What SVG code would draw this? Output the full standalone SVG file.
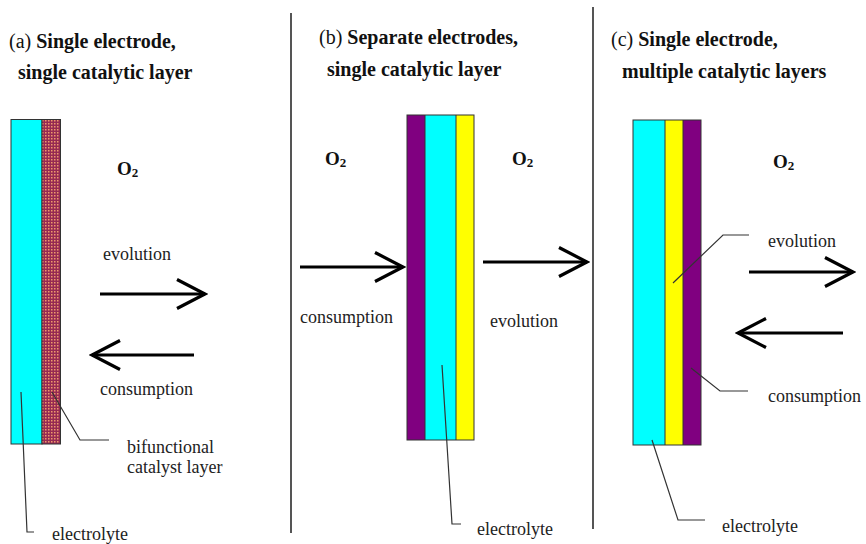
<svg xmlns="http://www.w3.org/2000/svg" width="866" height="544" viewBox="0 0 866 544">
<style>
text{font-family:'Liberation Serif','Tinos','DejaVu Serif',serif}
.t{font-size:18px;fill:#222}
.h{font-size:20px;fill:#111}
.b{font-weight:bold}
.o{font-size:19px;font-weight:bold;fill:#111}
.lead{fill:none;stroke:#333;stroke-width:1.2}
.arr{fill:none;stroke:#000;stroke-width:3.2}
.div{stroke:#555;stroke-width:2}
.lay{stroke:#333;stroke-width:1}
</style>
<defs>
<pattern id="cat" patternUnits="userSpaceOnUse" width="3" height="3">
<rect width="3" height="3" fill="#962a52"/>
<rect x="0" y="0" width="1.5" height="1.5" fill="#ee9a6c"/>
</pattern>
<marker id="head" markerUnits="userSpaceOnUse" viewBox="0 0 34 34" markerWidth="34" markerHeight="34" refX="31" refY="17" orient="auto">
<path d="M3,2.5 L31,17 L3,31.5" fill="none" stroke="#000" stroke-width="3.2"/>
</marker>
</defs>

<g id="dividers">
<line class="div" x1="291" y1="13" x2="291" y2="533"/>
<line class="div" x1="593" y1="7" x2="593" y2="529"/>
</g>

<g id="titles">
<text class="h" x="9" y="48">(a) <tspan class="b">Single electrode,</tspan></text>
<text class="h b" x="18" y="79">single catalytic layer</text>
<text class="h" x="319" y="44">(b) <tspan class="b">Separate electrodes,</tspan></text>
<text class="h b" x="327" y="76">single catalytic layer</text>
<text class="h" x="611" y="46">(c) <tspan class="b">Single electrode,</tspan></text>
<text class="h b" x="622" y="78">multiple catalytic layers</text>
</g>

<g id="panel-a">
<g id="a-electrolyte"><rect class="lay" x="11" y="119.5" width="31" height="324.5" fill="#00ffff"/></g>
<g id="a-catalyst"><rect class="lay" x="42" y="119.5" width="18.5" height="324.5" fill="url(#cat)"/></g>
<text class="o" x="117" y="175">O<tspan font-size="13" dy="2">2</tspan></text>
<text class="t" x="103" y="260">evolution</text>
<text class="t" x="100" y="395">consumption</text>
<text class="t" x="127" y="453">bifunctional</text>
<text class="t" x="127" y="473">catalyst layer</text>
<text class="t" x="52" y="540">electrolyte</text>
</g>

<g id="panel-b">
<g id="b-layers">
<rect x="407" y="115" width="18" height="325" fill="#800080"/>
<rect x="425" y="115" width="31" height="325" fill="#00ffff"/>
<rect x="456" y="115" width="18" height="325" fill="#ffff00"/>
<line class="lay" x1="425" y1="115" x2="425" y2="440"/>
<line class="lay" x1="456" y1="115" x2="456" y2="440"/>
<rect class="lay" x="407" y="115" width="67" height="325" fill="none"/>
</g>
<text class="o" x="325" y="165">O<tspan font-size="13" dy="2">2</tspan></text>
<text class="o" x="512" y="165">O<tspan font-size="13" dy="2">2</tspan></text>
<text class="t" x="300" y="323">consumption</text>
<text class="t" x="490" y="327">evolution</text>
<text class="t" x="477" y="535">electrolyte</text>
</g>

<g id="panel-c">
<g id="c-layers">
<rect x="633" y="120" width="32" height="325" fill="#00ffff"/>
<rect x="665" y="120" width="18" height="325" fill="#ffff00"/>
<rect x="683" y="120" width="18" height="325" fill="#800080"/>
<line class="lay" x1="665" y1="120" x2="665" y2="445"/>
<line class="lay" x1="683" y1="120" x2="683" y2="445"/>
<rect class="lay" x="633" y="120" width="68" height="325" fill="none"/>
</g>
<text class="o" x="773" y="168">O<tspan font-size="13" dy="2">2</tspan></text>
<text class="t" x="768" y="247">evolution</text>
<text class="t" x="768" y="402">consumption</text>
<text class="t" x="722" y="532">electrolyte</text>
</g>

<g id="connectors">
<line class="arr" x1="100" y1="294" x2="205" y2="294" marker-end="url(#head)"/>
<line class="arr" x1="194" y1="355" x2="92" y2="355" marker-end="url(#head)"/>
<line class="arr" x1="300" y1="267" x2="403" y2="267" marker-end="url(#head)"/>
<line class="arr" x1="483" y1="262" x2="587" y2="262" marker-end="url(#head)"/>
<line class="arr" x1="749" y1="272" x2="853" y2="272" marker-end="url(#head)"/>
<line class="arr" x1="843" y1="333" x2="738" y2="333" marker-end="url(#head)"/>
<polyline class="lead" points="52,392 80,440 109,440"/>
<polyline class="lead" points="21,392 27,532 34,532"/>
<polyline class="lead" points="442,365 452,524 461,524"/>
<polyline class="lead" points="673,283 723,235 749,235"/>
<polyline class="lead" points="691,368 720,391 748,391"/>
<polyline class="lead" points="652,440 678,520 705,520"/>
</g>
</svg>
